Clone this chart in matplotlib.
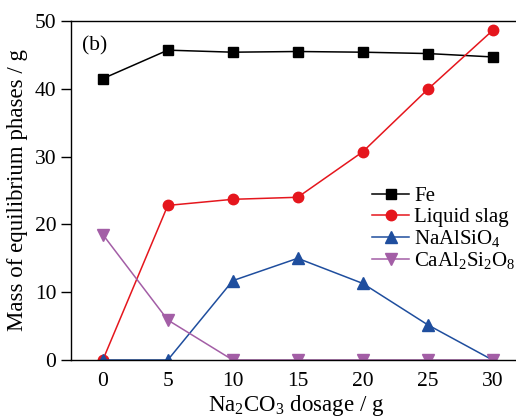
import matplotlib
matplotlib.use("Agg")
import matplotlib.pyplot as plt

plt.rcParams["font.family"] = ["Liberation Serif", "DejaVu Serif"]
plt.rcParams["mathtext.fontset"] = "custom"
plt.rcParams["mathtext.rm"] = "Liberation Serif"

dosage = [0, 5, 10, 15, 20, 25, 30]
fe = [41.5, 45.7, 45.4, 45.5, 45.4, 45.2, 44.7]
liquid_slag = [0, 22.8, 23.7, 24.0, 30.7, 39.9, 48.6]
naalsio4 = [0, 0, 11.7, 15.0, 11.3, 5.2, 0]
caal2si2o8 = [18.5, 5.9, 0, 0, 0, 0, 0]

fig = plt.figure(figsize=(5.16, 4.17), dpi=100)
ax = fig.add_axes([71 / 516, 1 - 360 / 417, 1 - 71 / 516 + 0.01, (360 - 21) / 417])

ax.plot(dosage, fe, color="black", marker="s", markersize=6.5, linewidth=1.1, label="Fe")
ax.plot(dosage, liquid_slag, color="#e5161d", marker="o", markersize=7.5, linewidth=1.1, label="Liquid slag")
ax.plot(dosage, naalsio4, color="#1f4e9e", marker="^", markersize=8, linewidth=1.1,
        label=r"NaAlSiO$_4$")
ax.plot(dosage, caal2si2o8, color="#a35ea6", marker="v", markersize=8, linewidth=1.1,
        label=r"CaAl$_2$Si$_2$O$_8$")

ax.set_xlim(-2.45, 32.2)
ax.set_ylim(0, 50)
ax.set_xticks(dosage)
ax.set_yticks([0, 10, 20, 30, 40, 50])
ax.tick_params(axis="x", length=0, labelsize=15.5, pad=9)
ax.tick_params(axis="y", direction="out", length=7, width=1, labelsize=15.5)
ax.spines["right"].set_visible(False)
for s in ("left", "top", "bottom"):
    ax.spines[s].set_linewidth(1)

ax.set_xlabel(r"Na$_2$CO$_3$ dosage / g", fontsize=16.5, labelpad=1)
ax.set_ylabel("Mass of equilibrium phases / g", fontsize=16.5, labelpad=5)
ax.text(0.025, 0.955, "(b)", transform=ax.transAxes, fontsize=15.5, va="top", ha="left")

ax.legend(loc="center left", bbox_to_anchor=(0.645, 0.385), frameon=False, fontsize=15,
          handlelength=1.8, handletextpad=0.25, labelspacing=0.05, borderpad=0)

fig.savefig("out.png", dpi=100)
